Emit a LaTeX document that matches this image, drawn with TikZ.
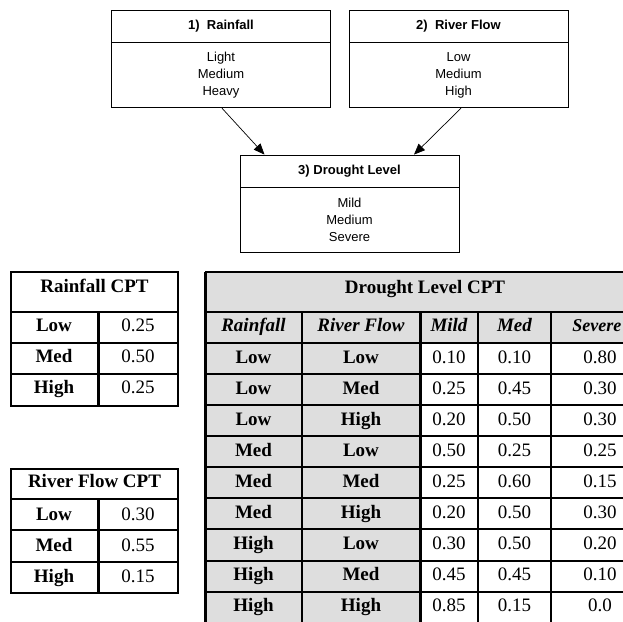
\documentclass[tikz,border=0pt]{standalone}
\usepackage{fontspec}
\setmainfont{Liberation Serif}
\newfontfamily\boxfont{Liberation Sans}
\usetikzlibrary{arrows.meta, positioning}
\definecolor{cellgray}{RGB}{222,222,222}

\begin{document}
\begin{tikzpicture}[
  x=1pt, y=-1pt,
  head/.style={
    rectangle, draw=black, line width=0.8pt,
    minimum width=219pt, minimum height=32pt, inner sep=0pt,
    font=\boxfont\fontsize{13}{17}\selectfont\bfseries
  },
  body/.style={
    rectangle, draw=black, line width=0.8pt,
    minimum width=219pt, minimum height=65pt, inner sep=0pt,
    align=center, font=\boxfont\fontsize{13}{17}\selectfont
  },
  arrow/.style={-{Triangle[length=11pt,width=9pt]}, line width=0.7pt},
  cell/.style={anchor=base, inner sep=0pt, font=\fontsize{19}{22}\selectfont},
  bcell/.style={cell, font=\fontsize{19}{22}\selectfont\bfseries},
  icell/.style={cell, font=\fontsize{19}{22}\selectfont\bfseries\itshape},
  gridline/.style={line width=1.3pt},
  heavyline/.style={line width=3pt}
]
\useasboundingbox (0,0) rectangle (623,621);
\clip (0,0) rectangle (623,621);

% ── Network nodes ──
\node[head] (rainhead) at (221,26) {1)\ \ Rainfall};
\node[body, below=0pt of rainhead] (rainbody) {Light\\Medium\\Heavy};

\node[head] (flowhead) at (458.5,26) {2)\ \ River Flow};
\node[body, below=0pt of flowhead] (flowbody) {Low\\Medium\\High};

\node[head] (drouhead) at (349.5,171) {3) Drought Level};
\node[body, below=0pt of drouhead] (droubody) {Mild\\Medium\\Severe};

% ── Arrows: parents to child ──
\draw[arrow] ([xshift=1pt]rainbody.south) -- ([xshift=-85pt]drouhead.north);
\draw[arrow] ([xshift=2.5pt]flowbody.south) -- ([xshift=64.5pt]drouhead.north);

% ── Rainfall CPT ──
\draw[gridline] (11,272) rectangle (178,406);
\foreach \y in {312,343,374} \draw[gridline] (11,\y) -- (178,\y);
\draw[heavyline] (98,312) -- (98,406);
\node[bcell] (raincpt) at (94.5,292) {Rainfall CPT};
\foreach \lab/\val [count=\i] in {Low/0.25, Med/0.50, High/0.25} {
  \node[bcell] (raincpt-l\i) at (54,{331+31*(\i-1)}) {\lab};
  \node[cell] (raincpt-v\i) at (138,{331+31*(\i-1)}) {\val};
}

% ── River Flow CPT ──
\draw[gridline] (11,469) rectangle (178,593);
\foreach \y in {499,530,562} \draw[gridline] (11,\y) -- (178,\y);
\draw[heavyline] (98,499) -- (98,593);
\node[bcell] (flowcpt) at (94.5,487) {River Flow CPT};
\foreach \lab/\val [count=\i] in {Low/0.30, Med/0.55, High/0.15} {
  \node[bcell] (flowcpt-l\i) at (54,{520+31*(\i-1)}) {\lab};
  \node[cell] (flowcpt-v\i) at (138,{520+31*(\i-1)}) {\val};
}

% ── Drought Level CPT ──
\fill[cellgray] (205,272) rectangle (650,343);
\fill[cellgray] (205,343) rectangle (420,630);
\foreach \y in {272,312,343,374,405,436,467,498,529,561,592,623}
  \draw[gridline] (205,\y) -- (650,\y);
\foreach \x in {302,478,551,650} \draw[gridline] (\x,312) -- (\x,630);
\draw[heavyline] (205,272) -- (205,630);
\draw[heavyline] (420,312) -- (420,630);
\node[bcell] (droucpt) at (425,293) {Drought Level CPT};
\node[icell] (droucpt-h1) at (253.5,331) {Rainfall};
\node[icell] (droucpt-h2) at (361,331) {River Flow};
\node[icell] (droucpt-h3) at (449,331) {Mild};
\node[icell] (droucpt-h4) at (514.5,331) {Med};
\node[icell, anchor=base east] (droucpt-h5) at (621.5,331) {\fontsize{18}{22}\selectfont Severe};
\foreach \ra/\rf/\pa/\pb/\pc [count=\i] in {
    Low/Low/0.10/0.10/0.80, Low/Med/0.25/0.45/0.30, Low/High/0.20/0.50/0.30,
    Med/Low/0.50/0.25/0.25, Med/Med/0.25/0.60/0.15, Med/High/0.20/0.50/0.30,
    High/Low/0.30/0.50/0.20, High/Med/0.45/0.45/0.10, High/High/0.85/0.15/0.0} {
  \node[bcell] (droucpt-\i a) at (253.5,{363+31.1*(\i-1)}) {\ra};
  \node[bcell] (droucpt-\i b) at (361,{363+31.1*(\i-1)}) {\rf};
  \node[cell] (droucpt-\i c) at (449,{363+31.1*(\i-1)}) {\pa};
  \node[cell] (droucpt-\i d) at (514.5,{363+31.1*(\i-1)}) {\pb};
  \node[cell] (droucpt-\i e) at (600,{363+31.1*(\i-1)}) {\pc};
}

\end{tikzpicture}
\end{document}
